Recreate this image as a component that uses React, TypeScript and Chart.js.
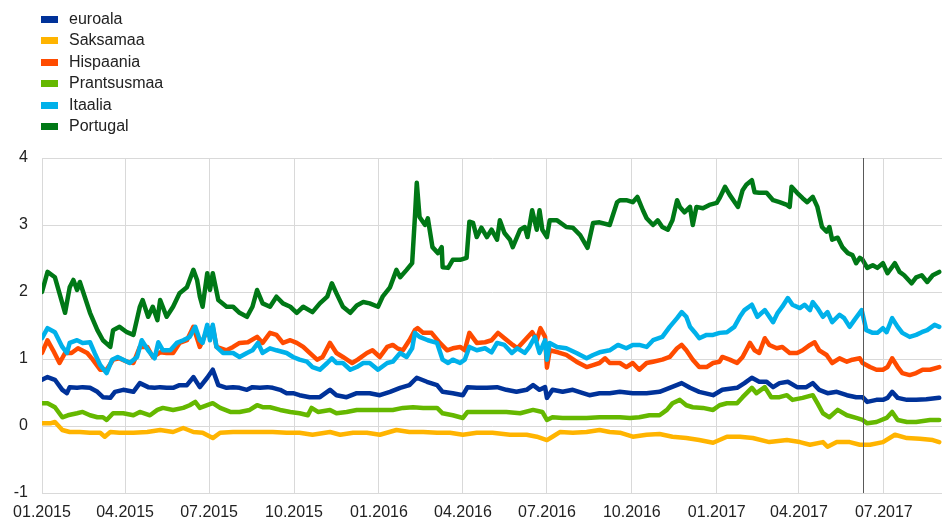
import React, { useEffect, useRef } from 'react';
import { Chart, registerables } from 'chart.js';

Chart.register(...registerables);

// x values are days since 01.01.2015
const tickDays = [0, 90, 181, 273, 365, 456, 547, 639, 731, 820, 912];
const tickLabels = ['01.2015', '04.2015', '07.2015', '10.2015', '01.2016', '04.2016', '07.2016', '10.2016', '01.2017', '04.2017', '07.2017'];
const markerDay = 889; // 08.06.2017
const yTicks = [-1, 0, 1, 2, 3, 4];

const seriesNames = ['euroala', 'Saksamaa', 'Hispaania', 'Prantsusmaa', 'Itaalia', 'Portugal'];
const seriesColors = ['#003299', '#FFB400', '#FF4B00', '#65B800', '#00B1EA', '#007816'];

const euroDays = [0, 6, 14, 22, 27, 30, 38, 44, 52, 60, 66, 74, 79, 88, 99, 106, 115, 122, 128, 135, 142, 149, 157, 164, 171, 179, 185, 191, 200, 207, 214, 222, 228, 236, 244, 250, 258, 265, 272, 279, 290, 301, 312, 319, 330, 341, 355, 366, 377, 388, 398, 406, 417, 428, 434, 445, 456, 461, 471, 482, 493, 503, 514, 525, 532, 539, 545, 547, 553, 564, 575, 586, 593, 604, 615, 626, 640, 655, 669, 680, 693, 702, 712, 727, 737, 753, 761, 769, 777, 785, 792, 799, 808, 818, 828, 835, 842, 851, 861, 872, 882, 889, 894, 904, 911, 916, 921, 927, 937, 947, 958, 972];
const euroVals = [0.69, 0.73, 0.69, 0.54, 0.49, 0.58, 0.57, 0.58, 0.57, 0.51, 0.43, 0.42, 0.51, 0.54, 0.51, 0.64, 0.58, 0.57, 0.58, 0.57, 0.57, 0.61, 0.61, 0.73, 0.58, 0.72, 0.84, 0.61, 0.57, 0.58, 0.57, 0.54, 0.58, 0.57, 0.58, 0.57, 0.54, 0.49, 0.49, 0.46, 0.43, 0.43, 0.54, 0.46, 0.43, 0.49, 0.49, 0.46, 0.51, 0.57, 0.61, 0.72, 0.66, 0.61, 0.51, 0.49, 0.46, 0.58, 0.57, 0.57, 0.58, 0.54, 0.51, 0.54, 0.61, 0.54, 0.58, 0.42, 0.54, 0.51, 0.54, 0.49, 0.46, 0.49, 0.49, 0.51, 0.49, 0.49, 0.51, 0.57, 0.64, 0.57, 0.51, 0.46, 0.54, 0.57, 0.64, 0.72, 0.66, 0.66, 0.58, 0.64, 0.66, 0.58, 0.58, 0.64, 0.54, 0.49, 0.51, 0.46, 0.43, 0.43, 0.36, 0.39, 0.39, 0.42, 0.51, 0.42, 0.39, 0.39, 0.40, 0.42];

const deDays = [0, 9, 14, 22, 30, 41, 52, 63, 68, 74, 84, 99, 114, 128, 142, 153, 164, 174, 185, 193, 207, 222, 236, 250, 265, 279, 293, 312, 323, 337, 352, 366, 384, 398, 413, 428, 442, 456, 471, 488, 507, 525, 536, 547, 553, 561, 575, 590, 604, 615, 626, 640, 655, 669, 683, 698, 712, 727, 742, 756, 770, 788, 807, 821, 832, 846, 851, 861, 875, 886, 897, 911, 924, 937, 951, 965, 972];
const deVals = [0.04, 0.04, 0.06, -0.06, -0.09, -0.09, -0.10, -0.10, -0.16, -0.09, -0.10, -0.10, -0.09, -0.06, -0.09, -0.03, -0.09, -0.10, -0.18, -0.10, -0.09, -0.09, -0.09, -0.09, -0.10, -0.10, -0.13, -0.09, -0.13, -0.10, -0.10, -0.13, -0.06, -0.09, -0.09, -0.10, -0.10, -0.13, -0.10, -0.10, -0.13, -0.13, -0.16, -0.21, -0.16, -0.09, -0.10, -0.09, -0.06, -0.09, -0.10, -0.16, -0.13, -0.12, -0.16, -0.18, -0.21, -0.25, -0.16, -0.16, -0.18, -0.24, -0.21, -0.24, -0.28, -0.24, -0.31, -0.24, -0.24, -0.28, -0.28, -0.24, -0.13, -0.18, -0.19, -0.21, -0.24];

const esDays = [0, 6, 12, 19, 25, 32, 39, 49, 55, 63, 70, 77, 84, 92, 99, 106, 114, 120, 128, 135, 142, 149, 157, 164, 171, 179, 185, 189, 200, 207, 214, 223, 233, 239, 247, 254, 261, 269, 276, 283, 290, 298, 304, 312, 319, 326, 336, 342, 352, 358, 366, 374, 380, 385, 391, 398, 404, 407, 413, 422, 431, 439, 445, 453, 458, 463, 471, 480, 487, 494, 501, 510, 515, 523, 531, 536, 540, 545, 547, 550, 559, 568, 579, 590, 597, 604, 610, 615, 626, 633, 640, 647, 655, 662, 672, 680, 688, 693, 698, 705, 712, 720, 727, 734, 737, 745, 753, 759, 767, 772, 777, 783, 788, 796, 802, 810, 818, 824, 832, 837, 842, 850, 856, 864, 872, 878, 886, 889, 897, 904, 911, 916, 921, 927, 932, 940, 947, 954, 962, 972];
const esVals = [1.09, 1.28, 1.13, 0.94, 1.09, 1.09, 1.16, 1.09, 0.99, 0.84, 0.84, 0.99, 1.01, 0.96, 0.94, 1.18, 1.18, 1.03, 1.10, 1.09, 1.09, 1.24, 1.28, 1.48, 1.18, 1.43, 1.48, 1.18, 1.13, 1.18, 1.24, 1.25, 1.33, 1.24, 1.39, 1.36, 1.24, 1.28, 1.24, 1.18, 1.09, 0.99, 1.03, 1.24, 1.09, 1.03, 0.94, 0.99, 1.09, 1.13, 1.03, 1.18, 1.21, 1.16, 1.13, 1.28, 1.43, 1.46, 1.39, 1.39, 1.24, 1.13, 1.16, 1.18, 1.13, 1.39, 1.24, 1.25, 1.28, 1.39, 1.31, 1.21, 1.16, 1.28, 1.40, 1.28, 1.46, 1.33, 0.87, 1.13, 1.10, 1.06, 0.96, 0.88, 0.91, 0.94, 1.01, 0.94, 0.94, 0.88, 0.94, 0.84, 0.94, 0.96, 0.99, 1.03, 1.16, 1.21, 1.13, 0.99, 0.88, 0.88, 0.94, 0.96, 1.03, 0.99, 0.94, 1.03, 1.24, 1.13, 1.09, 1.31, 1.21, 1.16, 1.18, 1.09, 1.09, 1.13, 1.21, 1.25, 1.13, 1.06, 0.94, 1.01, 0.96, 0.99, 1.01, 0.94, 0.88, 0.84, 0.84, 0.88, 1.01, 0.88, 0.79, 0.76, 0.79, 0.84, 0.84, 0.88];

const frDays = [0, 6, 14, 22, 28, 38, 44, 52, 60, 66, 70, 77, 88, 99, 106, 117, 125, 131, 142, 153, 160, 166, 171, 179, 185, 193, 204, 214, 225, 233, 239, 247, 258, 269, 279, 288, 292, 299, 312, 319, 330, 341, 355, 366, 380, 391, 402, 413, 428, 434, 445, 456, 461, 474, 488, 503, 518, 532, 542, 547, 553, 564, 579, 590, 604, 615, 626, 637, 647, 658, 669, 677, 683, 691, 698, 705, 716, 727, 734, 742, 753, 759, 769, 774, 783, 790, 799, 807, 813, 824, 835, 840, 846, 853, 862, 872, 882, 889, 894, 904, 915, 921, 927, 937, 947, 962, 972];
const frVals = [0.34, 0.34, 0.28, 0.13, 0.16, 0.19, 0.21, 0.16, 0.13, 0.13, 0.09, 0.19, 0.19, 0.16, 0.21, 0.16, 0.24, 0.27, 0.24, 0.27, 0.31, 0.36, 0.27, 0.31, 0.34, 0.27, 0.21, 0.21, 0.24, 0.31, 0.28, 0.28, 0.24, 0.21, 0.19, 0.16, 0.27, 0.21, 0.24, 0.19, 0.21, 0.24, 0.24, 0.24, 0.24, 0.27, 0.28, 0.27, 0.27, 0.19, 0.16, 0.12, 0.21, 0.21, 0.21, 0.21, 0.19, 0.24, 0.21, 0.09, 0.13, 0.12, 0.12, 0.12, 0.13, 0.13, 0.13, 0.12, 0.13, 0.16, 0.16, 0.24, 0.34, 0.39, 0.31, 0.28, 0.27, 0.24, 0.31, 0.34, 0.34, 0.43, 0.57, 0.49, 0.58, 0.43, 0.43, 0.46, 0.39, 0.42, 0.46, 0.34, 0.19, 0.13, 0.24, 0.16, 0.12, 0.09, 0.04, 0.06, 0.12, 0.21, 0.09, 0.06, 0.06, 0.09, 0.09];

const itDays = [0, 6, 14, 22, 27, 30, 38, 44, 52, 57, 63, 70, 76, 82, 88, 95, 103, 108, 115, 122, 126, 131, 139, 146, 153, 160, 166, 171, 174, 179, 182, 185, 189, 196, 207, 214, 222, 228, 234, 239, 247, 254, 265, 272, 279, 287, 293, 301, 309, 314, 319, 326, 334, 341, 348, 355, 364, 374, 380, 388, 395, 401, 404, 409, 418, 428, 434, 440, 445, 453, 458, 463, 471, 480, 487, 493, 501, 509, 515, 523, 528, 534, 539, 545, 547, 550, 558, 568, 579, 590, 597, 604, 615, 624, 633, 640, 647, 655, 662, 672, 680, 688, 693, 698, 702, 707, 712, 720, 727, 734, 742, 750, 756, 761, 769, 775, 783, 792, 797, 802, 808, 813, 821, 826, 832, 835, 840, 846, 851, 856, 864, 869, 875, 880, 888, 893, 900, 905, 911, 915, 921, 927, 932, 940, 947, 953, 959, 967, 972];
const itVals = [1.31, 1.46, 1.40, 1.18, 1.09, 1.24, 1.28, 1.24, 1.25, 1.09, 0.91, 0.79, 0.99, 1.03, 0.99, 0.94, 1.03, 1.28, 1.13, 1.01, 1.25, 1.13, 1.13, 1.24, 1.28, 1.33, 1.48, 1.28, 1.24, 1.51, 1.28, 1.51, 1.18, 1.09, 1.09, 1.03, 1.09, 1.13, 1.24, 1.09, 1.16, 1.13, 1.09, 1.03, 0.99, 0.96, 0.88, 0.84, 0.94, 1.01, 0.94, 0.94, 0.84, 0.88, 0.94, 0.94, 0.84, 0.94, 0.96, 1.09, 1.03, 1.16, 1.39, 1.33, 1.28, 1.24, 0.99, 0.94, 0.99, 0.94, 0.99, 1.18, 1.13, 1.16, 1.10, 1.24, 1.21, 1.09, 1.16, 1.09, 1.18, 1.33, 1.09, 1.28, 0.99, 1.24, 1.18, 1.16, 1.09, 1.01, 1.06, 1.10, 1.13, 1.21, 1.16, 1.21, 1.21, 1.18, 1.28, 1.33, 1.48, 1.61, 1.70, 1.63, 1.48, 1.40, 1.31, 1.36, 1.36, 1.39, 1.40, 1.48, 1.63, 1.73, 1.81, 1.63, 1.73, 1.55, 1.69, 1.78, 1.91, 1.81, 1.76, 1.81, 1.73, 1.85, 1.76, 1.63, 1.70, 1.55, 1.66, 1.61, 1.48, 1.58, 1.73, 1.43, 1.39, 1.39, 1.46, 1.40, 1.61, 1.48, 1.39, 1.33, 1.36, 1.40, 1.43, 1.51, 1.48];

const ptDays = [0, 6, 14, 25, 30, 34, 38, 41, 52, 60, 66, 74, 77, 84, 92, 99, 106, 109, 115, 120, 125, 128, 135, 142, 149, 157, 164, 168, 171, 174, 179, 182, 185, 191, 200, 207, 214, 222, 228, 233, 239, 247, 254, 261, 269, 276, 283, 293, 301, 309, 314, 319, 326, 334, 341, 348, 355, 364, 369, 377, 384, 388, 395, 401, 404, 406, 409, 415, 418, 423, 429, 433, 434, 440, 445, 453, 460, 463, 467, 471, 476, 482, 487, 493, 496, 501, 507, 510, 518, 523, 526, 531, 536, 539, 542, 547, 550, 558, 568, 575, 583, 591, 597, 604, 615, 623, 626, 633, 640, 645, 651, 655, 662, 667, 672, 678, 683, 688, 691, 696, 702, 705, 709, 716, 723, 731, 734, 740, 745, 754, 759, 763, 769, 772, 777, 785, 792, 799, 807, 810, 812, 818, 824, 829, 835, 840, 845, 850, 853, 856, 862, 867, 873, 878, 882, 886, 889, 894, 900, 905, 911, 916, 924, 929, 934, 942, 947, 953, 959, 965, 972];
const ptVals = [2.00, 2.30, 2.22, 1.69, 2.07, 2.18, 2.03, 2.15, 1.69, 1.43, 1.28, 1.18, 1.43, 1.48, 1.40, 1.36, 1.78, 1.88, 1.63, 1.78, 1.58, 1.88, 1.63, 1.78, 1.98, 2.07, 2.33, 2.18, 1.93, 1.78, 2.28, 2.03, 2.28, 1.88, 1.78, 1.78, 1.69, 1.63, 1.78, 2.03, 1.83, 1.78, 1.93, 1.83, 1.78, 1.69, 1.78, 1.70, 1.83, 1.93, 2.13, 1.98, 1.78, 1.69, 1.80, 1.85, 1.83, 1.78, 1.93, 2.07, 2.33, 2.22, 2.33, 2.43, 3.12, 3.63, 3.12, 3.00, 3.10, 2.67, 2.58, 2.67, 2.37, 2.36, 2.48, 2.48, 2.51, 3.05, 3.03, 2.82, 2.96, 2.82, 2.93, 2.78, 3.07, 2.88, 2.78, 2.67, 2.93, 2.97, 2.82, 3.22, 2.93, 3.22, 2.93, 2.82, 3.07, 3.07, 2.97, 2.96, 2.85, 2.66, 3.03, 3.04, 3.00, 3.34, 3.37, 3.37, 3.34, 3.42, 3.22, 3.10, 3.00, 3.07, 2.97, 2.93, 3.07, 3.37, 3.27, 3.19, 3.27, 3.00, 3.27, 3.25, 3.30, 3.33, 3.40, 3.57, 3.45, 3.27, 3.52, 3.60, 3.67, 3.49, 3.48, 3.48, 3.37, 3.34, 3.30, 3.27, 3.57, 3.48, 3.40, 3.34, 3.42, 3.27, 2.97, 2.90, 2.97, 2.78, 2.81, 2.67, 2.58, 2.55, 2.43, 2.51, 2.48, 2.36, 2.40, 2.36, 2.43, 2.28, 2.43, 2.30, 2.25, 2.13, 2.22, 2.25, 2.15, 2.25, 2.30];

const seriesDays = [euroDays, deDays, esDays, frDays, itDays, ptDays];
const seriesVals = [euroVals, deVals, esVals, frVals, itVals, ptVals];

const FONT = 'Arial, "Liberation Sans", sans-serif';

const markerPlugin = {
  id: 'marker',
  afterDatasetsDraw(chart: any) {
    const { ctx, chartArea, scales } = chart;
    const x = Math.round(scales.x.getPixelForValue(markerDay)) + 0.5;
    ctx.save();
    ctx.strokeStyle = '#595959';
    ctx.lineWidth = 1;
    ctx.beginPath();
    ctx.moveTo(x, chartArea.top);
    ctx.lineTo(x, chartArea.bottom);
    ctx.stroke();
    ctx.restore();
  },
};

export default function App() {
  const ref = useRef<HTMLCanvasElement | null>(null);

  useEffect(() => {
    document.body.style.margin = '0';
    const canvas = ref.current;
    if (!canvas) return;
    const datasets = seriesNames.map((name, i) => ({
      label: name,
      data: seriesDays[i].map((d, j) => ({ x: d, y: seriesVals[i][j] })),
      borderColor: seriesColors[i],
      backgroundColor: seriesColors[i],
      borderWidth: 4.5,
      pointRadius: 0,
      tension: 0,
      fill: false,
      order: seriesNames.length - i,
      borderJoinStyle: 'round' as const,
      borderCapStyle: 'round' as const,
    }));
    const chart = new Chart(canvas, {
      type: 'line',
      data: { datasets },
      options: {
        animation: false,
        responsive: false,
        devicePixelRatio: 1,
        layout: { padding: { top: 158, left: 0, right: 0, bottom: 0 } },
        plugins: { legend: { display: false }, tooltip: { enabled: false } },
        scales: {
          x: {
            type: 'linear',
            min: 0,
            max: 975,
            afterBuildTicks: (s: any) => {
              s.ticks = tickDays.map((v) => ({ value: v }));
            },
            afterFit: (s: any) => {
              s.height = 27;
            },
            ticks: {
              autoSkip: false,
              maxRotation: 0,
              padding: 10,
              color: '#222',
              font: { size: 16, family: FONT },
              callback: (v: any) => {
                const k = tickDays.indexOf(Number(v));
                return k >= 0 ? tickLabels[k] : '';
              },
            },
            grid: { color: '#d9d9d9', lineWidth: 1, drawTicks: false },
            border: { color: '#d9d9d9' },
          },
          y: {
            min: -1,
            max: 4,
            afterBuildTicks: (s: any) => {
              s.ticks = yTicks.map((v) => ({ value: v }));
            },
            afterFit: (s: any) => {
              s.width = 42;
            },
            ticks: {
              padding: 14,
              color: '#222',
              font: { size: 16, family: FONT },
            },
            grid: { color: '#d9d9d9', lineWidth: 1, drawTicks: false },
            border: { color: '#d9d9d9' },
          },
        },
      },
      plugins: [markerPlugin],
    });
    return () => chart.destroy();
  }, []);

  return (
    <div style={{ position: 'relative', width: 942, height: 520, fontFamily: FONT }}>
      <canvas ref={ref} width={942} height={520} style={{ display: 'block', width: 942, height: 520 }} />
      {seriesNames.map((name, i) => {
        const cy = 19 + i * 21.4;
        return (
          <div key={name} style={{ position: 'absolute', left: 0, top: cy - 10, height: 20, width: 240 }}>
            <span
              style={{
                position: 'absolute',
                left: 41,
                top: 7,
                width: 17,
                height: 7,
                background: seriesColors[i],
              }}
            />
            <span
              style={{
                position: 'absolute',
                left: 69,
                top: 0,
                lineHeight: '20px',
                fontSize: 16,
                color: '#222',
                whiteSpace: 'nowrap',
              }}
            >
              {name}
            </span>
          </div>
        );
      })}
    </div>
  );
}
